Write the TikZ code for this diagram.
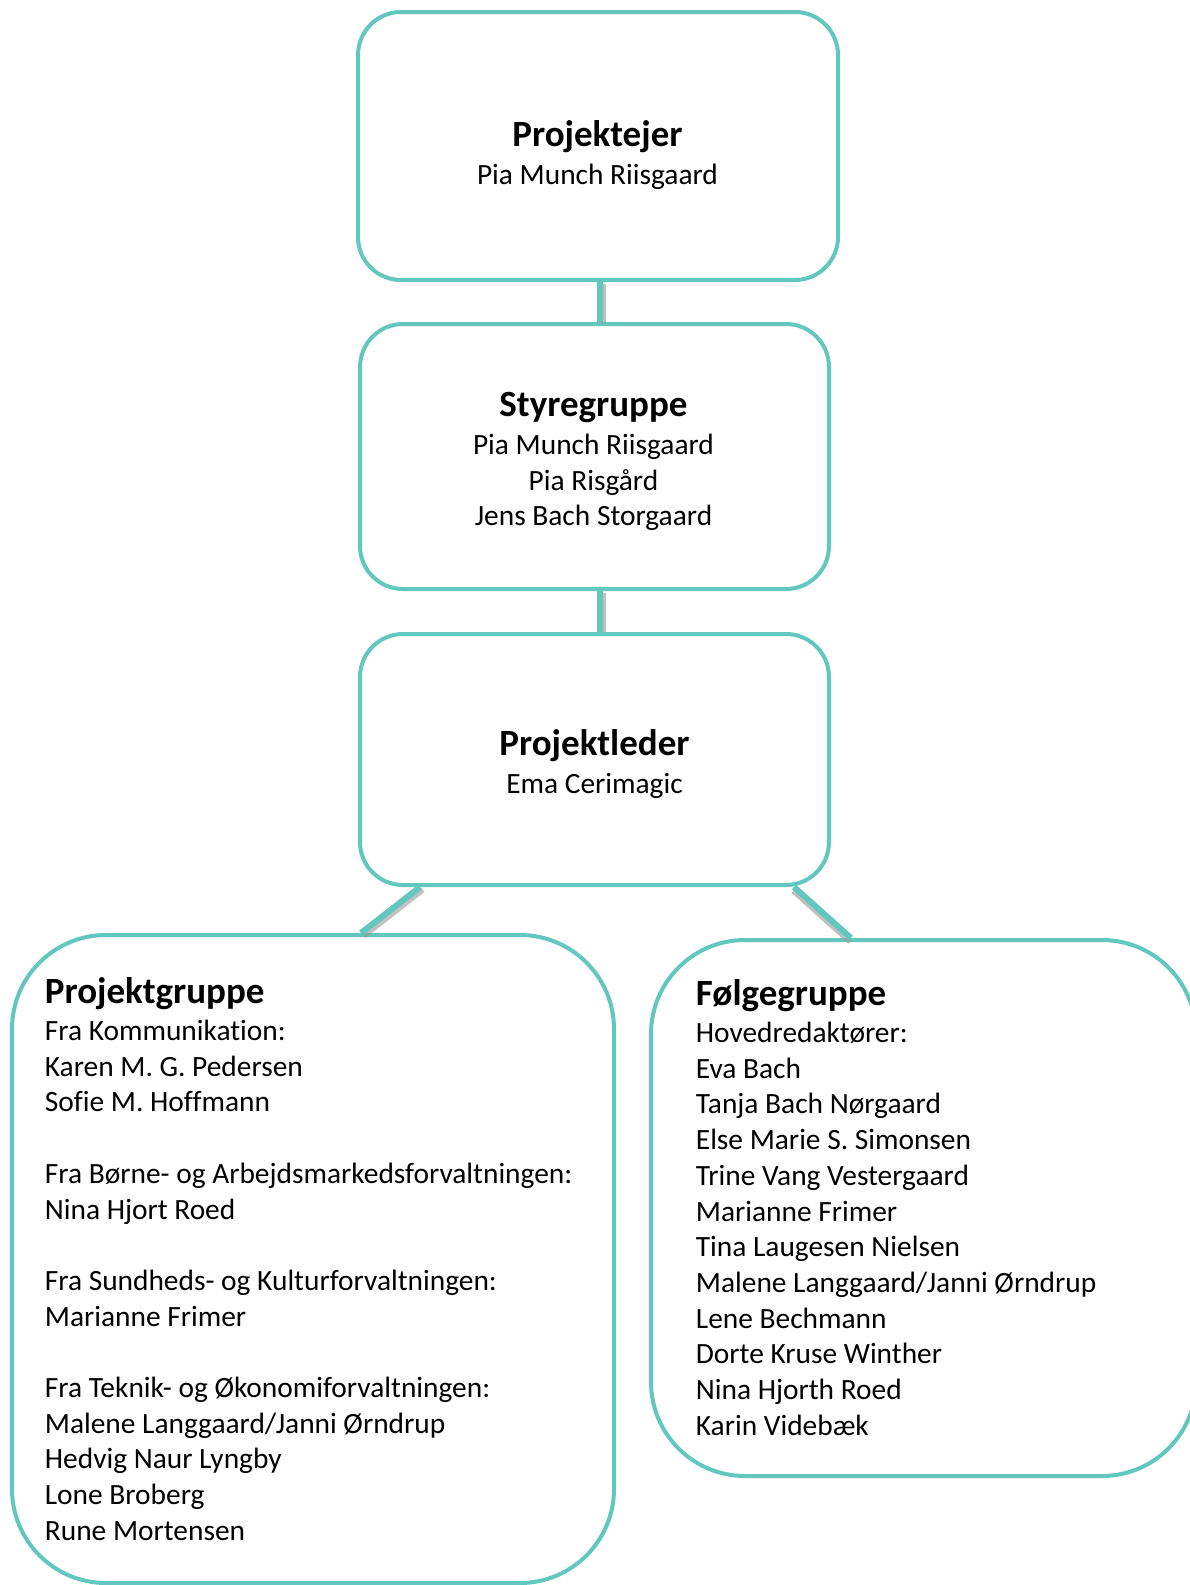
\documentclass[tikz,border=0pt]{standalone}
\usepackage{fontspec}
\setmainfont{Carlito}[Ligatures=NoCommon]
\usetikzlibrary{calc}
\definecolor{tealline}{RGB}{98,199,191}
\newcommand\bodyfont{\fontsize{14.7}{17.85}\selectfont}
\newcommand\headfont{\fontsize{18.5}{22}\selectfont\bfseries}
\newcommand\textrows[2]{\begin{tabular}[t]{@{}#1@{}}#2\end{tabular}}
\begin{document}
\begin{tikzpicture}[x=0.5pt,y=-0.5pt,
 box/.style={draw=tealline, line width=2pt, rectangle, rounded corners=21.5pt, inner sep=0pt},
 bigbox/.style={box, rounded corners=47pt},
 conn/.style={draw=tealline, line width=3pt},
 shadowline/.style={draw=black!40, line width=2.5pt, opacity=0.6},
 head/.style={font=\headfont, inner sep=0pt, anchor=base},
 body/.style={font=\bodyfont, inner sep=0pt, anchor=base}]
\useasboundingbox (0,0) rectangle (1189,1585);
\fill[white] (0,0) rectangle (1189,1585);
% boxes
\node[box, minimum width=240pt, minimum height=134pt] (b1) at (598,146) {};
\node[box, minimum width=234.5pt, minimum height=132.5pt] (b2) at (594.5,456.5) {};
\node[box, minimum width=234.5pt, minimum height=125.5pt] (b3) at (594.5,759.5) {};
\node[bigbox, minimum width=301pt, minimum height=324pt] (b4) at (313,1259) {};
\node[bigbox, minimum width=272.5pt, minimum height=268pt] (b5) at (923.5,1208) {};
% connectors
\coordinate (c1) at ($(b1.south)+(2,0)$);
\coordinate (c2) at ($(b2.south)+(5.5,0)$);
\coordinate (c3) at ($(b3.south west)+(62,0)$);
\coordinate (c4) at ($(b4.north west)+(351,0)$);
\coordinate (c5) at ($(b3.south east)+(-37,0)$);
\coordinate (c6) at ($(b5.north west)+(202,0)$);
\draw[shadowline] ($(c1)+(3,2)$) -- ($(c1 |- b2.north)+(3,2)$);
\draw[shadowline] ($(c2)+(3,2)$) -- ($(c2 |- b3.north)+(3,0)$);
\draw[shadowline] ($(c3)+(3,3)$) -- ($(c4)+(3,3)$);
\draw[shadowline] ($(c5)+(-1,4)$) -- ($(c6)+(-1,4)$);
\draw[conn] (c1) -- (c1 |- b2.north);
\draw[conn] (c2) -- (c2 |- b3.north);
\draw[conn] (c3) -- (c4);
\draw[conn] (c5) -- (c6);
% texts
\node[head] (t1) at (597.5,146) {Projektejer};
\node[body] (n1) at (597.5,184.5) {Pia Munch Riisgaard};
\node[head] (t2) at (593.5,416) {Styregruppe};
\node[body] (n2) at (593.5,454.5) {\textrows{c}{Pia Munch Riisgaard\\Pia Risgård\\Jens Bach Storgaard}};
\node[head] (t3) at (594.5,755) {Projektleder};
\node[body] (n3) at (594.5,793) {Ema Cerimagic};
\node[head, anchor=base west] (t4) at (44.5,1003) {Projektgruppe};
\node[body, anchor=base west] (n4) at (44.5,1040.5) {\textrows{l}{Fra Kommunikation:\\Karen M. G. Pedersen\\Sofie M. Hoffmann\\ \\Fra Børne- og Arbejdsmarkedsforvaltningen:\\Nina Hjort Roed\\ \\Fra Sundheds- og Kulturforvaltningen:\\Marianne Frimer\\ \\Fra Teknik- og Økonomiforvaltningen:\\Malene Langgaard/Janni Ørndrup\\Hedvig Naur Lyngby\\Lone Broberg\\Rune Mortensen}};
\node[head, anchor=base west] (t5) at (695.5,1005) {Følgegruppe};
\node[body, anchor=base west] (n5) at (695.5,1042.5) {\textrows{l}{Hovedredaktører:\\Eva Bach\\Tanja Bach Nørgaard\\Else Marie S. Simonsen\\Trine Vang Vestergaard\\Marianne Frimer\\Tina Laugesen Nielsen\\Malene Langgaard/Janni Ørndrup\\Lene Bechmann\\Dorte Kruse Winther\\Nina Hjorth Roed\\Karin Videbæk}};
\end{tikzpicture}
\end{document}
